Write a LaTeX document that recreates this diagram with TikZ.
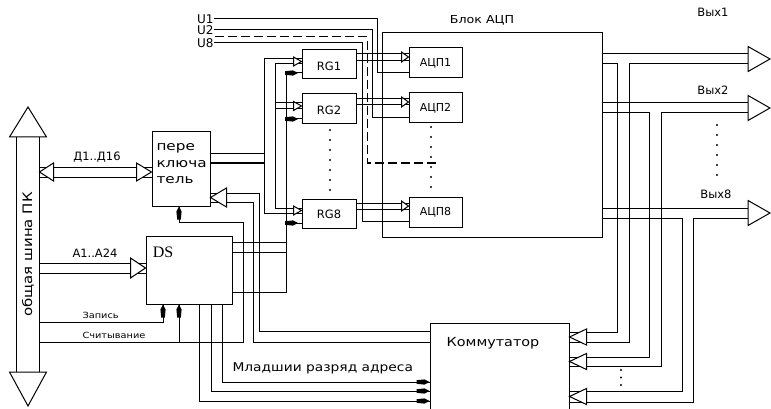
\documentclass[tikz,border=0pt]{standalone}
\usepackage{fontspec}
\setmainfont{DejaVu Sans}
\newfontfamily\pf{DejaVu Sans}
\newfontfamily\pw[FakeStretch=1.15]{DejaVu Sans}
\newfontfamily\pww[FakeStretch=1.22]{DejaVu Sans}
\newfontfamily\pserif{Liberation Serif}
\usetikzlibrary{arrows.meta}
\begin{document}
\begin{tikzpicture}[x=1pt,y=-1pt,line width=1pt,
  every node/.style={inner sep=0pt},
  bx/.style={draw,inner sep=0pt},
  capl/.style={font=\pf\fontsize{11.5}{13}\selectfont},
  pics/harr/.style 2 args={code={\draw[fill=white,line join=miter] (0,0) -- (-#1,-#2) -- (-#1,#2) -- cycle;}},
  pics/barr/.style={code={\fill (0,0) -- (-5,-2.6) -- (-13,-1.8) -- (-13,1.8) -- (-5,2.6) -- cycle;}},
  dashline/.style={dash pattern=on 9pt off 4pt}]
\useasboundingbox (0,0) rectangle (771,409);
\fill[white] (0,0) rectangle (771,409);

% ---------- boxes ----------
\node[bx,minimum width=58pt,minimum height=74pt] (per) at (181,169) {};
\node[bx,minimum width=86pt,minimum height=68pt] (ds) at (189,270) {};
\node[bx,minimum width=54pt,minimum height=29pt] (rg1) at (329,64.5) {};
\node[bx,minimum width=54pt,minimum height=30pt] (rg2) at (329,109) {};
\node[bx,minimum width=54pt,minimum height=29pt] (rg8) at (329,213.5) {};
\node[bx,minimum width=220pt,minimum height=204pt] (blk) at (492,135) {};
\node[bx,minimum width=53pt,minimum height=30pt] (adc1) at (435.5,63) {};
\node[bx,minimum width=53pt,minimum height=30pt] (adc2) at (435.5,108) {};
\node[bx,minimum width=53pt,minimum height=30pt] (adc8) at (435.5,212) {};
\node[bx,minimum width=139pt,minimum height=97pt] (kom) at (499.5,371.5) {};

% ---------- bus ----------
\node[minimum width=22pt,minimum height=235pt] (bus) at (28,254.5) {};
\draw (bus.north west) -- (bus.south west);
\draw (bus.north east) -- (bus.south east);
\pic[rotate=90] at (28,107) {harr={30}{18.5}};
\pic[rotate=-90] at (28,406) {harr={34}{18.5}};
\node[rotate=90,font=\pw\fontsize{13}{15}\selectfont] (buslbl) at (bus.center) {общая шина ПК};

% ---------- box texts ----------
\node[anchor=west,align=left,font=\pww\fontsize{12.5}{16.5}\selectfont] (pert) at (156,164) {пере\\ключа\\тель};
\node[font=\pserif\fontsize{16}{18}\selectfont] (dst) at (163,252) {DS};
\node[capl] (rg1t) at ([yshift=-2pt]rg1.center) {RG1};
\node[capl] (rg2t) at ([yshift=-1pt]rg2.center) {RG2};
\node[capl] (rg8t) at ([yshift=-1pt]rg8.center) {RG8};
\node[font=\pf\fontsize{11}{13}\selectfont] (a1t) at (adc1.center) {АЦП1};
\node[font=\pf\fontsize{11}{13}\selectfont] (a2t) at (adc2.center) {АЦП2};
\node[font=\pf\fontsize{11}{13}\selectfont] (a8t) at (adc8.center) {АЦП8};
\node[font=\pw\fontsize{11}{13}\selectfont] (blkt) at (482,20) {Блок АЦП};
\node[font=\pw\fontsize{12.5}{14}\selectfont] (komt) at (493,343) {Коммутатор};

% ---------- D bus ----------
\node[font=\pf\fontsize{11.5}{13}\selectfont] (dlbl) at (97,157) {Д1..Д16};
\draw (bus.east |- 0,167) -- (per.west |- 0,167);
\draw (bus.east |- 0,177) -- (per.west |- 0,177);
\pic[rotate=180] at (bus.east |- 0,172) {harr={14}{9}};
\pic at (per.west |- 0,172) {harr={15}{9}};

% ---------- A bus ----------
\node[font=\pf\fontsize{11.5}{13}\selectfont] (albl) at (95,253) {A1..A24};
\draw (bus.east |- 0,263) -- (ds.west |- 0,263);
\draw (bus.east |- 0,273) -- (ds.west |- 0,273);
\pic at (ds.west |- 0,268) {harr={15}{10}};

% ---------- write / read ----------
\node[anchor=west,font=\pw\fontsize{8.5}{10}\selectfont] (zap) at (82,315) {Запись};
\node[anchor=west,font=\pw\fontsize{8.5}{10}\selectfont] (sch) at (82,335) {Считывание};
\draw (bus.east |- 0,322) -| (ds.south -| 163,0);
\pic[rotate=90] at (ds.south -| 163,0) {barr};
\draw (bus.east |- 0,342) -- (243,342) -- (243,222) -- (179,222) -- (per.south -| 179,0);
\draw (179,342) -- (ds.south -| 179,0);
\pic[rotate=90] at (ds.south -| 179,0) {barr};
\pic[rotate=90] at (per.south -| 179,0) {barr};

% ---------- DS outputs to RG ----------
\draw (ds.east |- 0,242) -- (286,242);
\draw (ds.east |- 0,252) -- (286,252);
\draw (ds.east |- 0,292) -- (286,292) -- (286,73);
\draw (286,73) -- (rg1.west |- 0,73);
\draw (286,119) -- (rg2.west |- 0,119);
\draw (286,223) -- (rg8.west |- 0,223);
\pic at (298,73) {barr};
\pic at (298,119) {barr};
\pic at (298,223) {barr};

% ---------- switch outputs to RG ----------
\draw (per.east |- 0,154) -- (264,154);
\draw (per.east |- 0,163) -- (264,163);
\draw (rg1.west |- 0,59) -- (264,59) -- (264,213) -- (rg8.west |- 0,213);
\draw (rg1.west |- 0,64) -- (275,64) -- (275,208) -- (rg8.west |- 0,208);
\draw (275,103) -- (rg2.west |- 0,103);
\draw (275,109) -- (rg2.west |- 0,109);
\pic at (rg1.west |- 0,61.5) {harr={8}{4.5}};
\pic at (rg2.west |- 0,106) {harr={8}{4.5}};
\pic at (rg8.west |- 0,210.5) {harr={8}{4.5}};

% ---------- RG to ADC ----------
\draw (rg1.east |- 0,53.5) -- (adc1.west |- 0,53.5);
\draw (rg1.east |- 0,60.5) -- (adc1.west |- 0,60.5);
\pic at (adc1.west |- 0,57) {harr={7}{5}};
\draw (rg2.east |- 0,99) -- (adc2.west |- 0,99);
\draw (rg2.east |- 0,105) -- (adc2.west |- 0,105);
\pic at (adc2.west |- 0,102) {harr={7}{5}};
\draw (rg8.east |- 0,203) -- (adc8.west |- 0,203);
\draw (rg8.east |- 0,209) -- (adc8.west |- 0,209);
\pic at (adc8.west |- 0,206) {harr={7}{5}};

% ---------- U inputs ----------
\node[anchor=east,font=\pf\fontsize{12}{13}\selectfont] (u1) at (214,19) {U1};
\node[anchor=east,font=\pf\fontsize{12}{13}\selectfont] (u2) at (214,30) {U2};
\node[anchor=east,font=\pf\fontsize{12}{13}\selectfont] (u8) at (214,43) {U8};
\coordinate (udash) at (215,37);
\coordinate (dashend) at (437,163);
\draw (u1.east) -- (377,19) -- (377,73) -- (adc1.west |- 0,73);
\draw (u2.east) -- (372,30) -- (372,118) -- (adc2.west |- 0,118);
\draw[dashline] (udash) -- (367,37) -- (367,163) -- (dashend);
\draw (u8.east) -- (362,43) -- (362,221) -- (adc8.west |- 0,221);

% dots
\foreach \yy in {130,140,...,190} \fill (330,\yy) circle (1.1pt);
\foreach \yy in {127,137,...,187} \fill (431,\yy) circle (1.1pt);
\foreach \yy in {125,135,...,175} \fill (717,\yy) circle (1.1pt);
\foreach \yy in {370,377.5,385} \fill (621,\yy) circle (1.1pt);

% ---------- outputs ----------
\coordinate (o1) at (770,59);
\coordinate (o2) at (770,108);
\coordinate (o8) at (770,213);
\node[font=\pf\fontsize{11.5}{13}\selectfont] (v1) at (713,12) {Вых1};
\node[font=\pf\fontsize{11.5}{13}\selectfont] (v2) at (713,90) {Вых2};
\node[font=\pf\fontsize{11.5}{13}\selectfont] (v8) at (716,194) {Вых8};

\draw (blk.east |- 0,54) -- (748,54);
\draw (blk.east |- 0,64) -- (617,64) -- (617,332) -- (kom.east |- 0,332);
\draw (748,64) -- (629,64) -- (629,342) -- (kom.east |- 0,342);
\draw (blk.east |- 0,103) -- (748,103);
\draw (blk.east |- 0,113) -- (649,113) -- (649,357) -- (kom.east |- 0,357);
\draw (748,113) -- (661,113) -- (661,366) -- (kom.east |- 0,366);
\draw (blk.east |- 0,208) -- (748,208);
\draw (blk.east |- 0,218) -- (682,218) -- (682,391) -- (kom.east |- 0,391);
\draw (748,218) -- (693,218) -- (693,402) -- (kom.east |- 0,402);
\pic at (o1) {harr={22}{12.5}};
\pic at (o2) {harr={22}{12.5}};
\pic at (o8) {harr={22}{12.5}};
\pic[rotate=180] at (kom.east |- 0,337) {harr={17}{8}};
\pic[rotate=180] at (kom.east |- 0,361.5) {harr={17}{8}};
\pic[rotate=180] at (kom.east |- 0,396.5) {harr={17}{8}};

% ---------- feedback into switch ----------
\draw (per.east |- 0,193) -- (259,193) -- (259,331) -- (kom.west |- 0,331);
\draw (per.east |- 0,202) -- (253,202) -- (253,342) -- (kom.west |- 0,342);
\pic[rotate=180] at (per.east |- 0,197.5) {harr={16}{9.5}};

% ---------- low address bits ----------
\node[anchor=west,font=\pw\fontsize{12}{14}\selectfont] (mlad) at (232,368) {Младшии разряд адреса};
\draw (ds.south -| 222,0) |- (kom.west |- 0,382);
\draw (ds.south -| 211,0) |- (kom.west |- 0,391);
\draw (ds.south -| 199,0) |- (kom.west |- 0,401);
\pic at (kom.west |- 0,382) {barr};
\pic at (kom.west |- 0,391) {barr};
\pic at (kom.west |- 0,401) {barr};
\end{tikzpicture}
\end{document}
